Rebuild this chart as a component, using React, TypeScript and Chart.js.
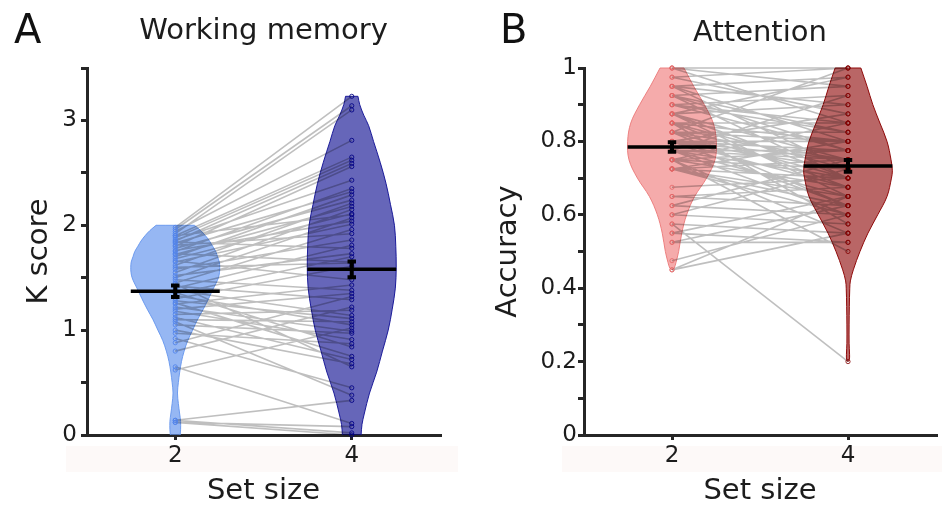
import React, { useEffect, useRef } from 'react';
import { Chart, registerables } from 'chart.js';

Chart.register(...registerables);

// ---------- data ----------
const setSizes = ['2', '4'];

// Working memory (K score), paired by participant
const wmSet2 = [1.98, 1.96, 1.92, 1.94, 1.90, 1.88, 1.85, 1.80, 1.86, 1.75, 1.83, 1.70, 1.78, 1.62, 1.72, 1.55, 1.68, 1.90, 1.50, 1.76, 1.65, 1.45, 1.81, 1.58, 1.40, 1.84, 1.52, 1.35, 1.73, 1.60, 1.30, 1.66, 1.25, 1.48, 1.20, 0.88, 1.42, 0.80, 1.15, 1.38, 1.28, 1.10, 1.33, 0.62, 1.22, 1.05, 1.18, 0.97, 1.36, 1.26, 1.12, 1.00, 1.44, 0.92, 1.08, 0.14, 0.65, 0.12, 0.14, 0.12];
const wmSet4 = [3.23, 3.14, 3.10, 2.81, 2.65, 2.62, 2.59, 2.56, 2.43, 2.35, 2.32, 2.29, 2.24, 2.21, 2.18, 2.15, 2.11, 2.10, 2.07, 2.04, 2.01, 1.96, 1.92, 1.86, 1.81, 1.78, 1.73, 1.70, 1.65, 1.64, 1.61, 1.48, 1.43, 1.38, 1.35, 1.32, 1.29, 1.22, 1.19, 1.14, 1.11, 1.08, 1.05, 1.02, 0.99, 0.97, 0.91, 0.87, 0.84, 0.75, 0.72, 0.68, 0.65, 0.45, 0.38, 0.33, 0.11, 0.08, 0.02, 0.00];

// Attention (accuracy), paired by participant
const attSet2 = [1.0, 1.0, 1.0, 0.975, 0.975, 0.95, 0.95, 0.95, 0.95, 0.925, 0.925, 0.925, 0.925, 0.9, 0.9, 0.9, 0.9, 0.875, 0.875, 0.875, 0.875, 0.875, 0.85, 0.85, 0.85, 0.85, 0.85, 0.825, 0.825, 0.825, 0.825, 0.825, 0.825, 0.8, 0.8, 0.8, 0.8, 0.8, 0.8, 0.8, 0.8, 0.775, 0.775, 0.775, 0.775, 0.775, 0.775, 0.775, 0.75, 0.75, 0.75, 0.75, 0.75, 0.75, 0.725, 0.725, 0.725, 0.725, 0.725, 0.725, 0.675, 0.65, 0.65, 0.625, 0.625, 0.6, 0.6, 0.575, 0.575, 0.55, 0.55, 0.525, 0.525, 0.475, 0.45, 0.45];
const attSet4 = [1.0, 0.95, 0.85, 1.0, 0.875, 0.975, 0.8, 0.725, 0.9, 0.95, 0.7, 0.825, 0.775, 0.925, 0.775, 0.825, 0.85, 0.9, 0.75, 0.65, 0.975, 0.7, 0.85, 0.725, 0.575, 0.8, 0.675, 0.825, 0.7, 1.0, 0.8, 0.75, 0.625, 0.775, 0.675, 0.875, 0.75, 0.625, 0.8, 0.725, 0.775, 0.75, 0.65, 0.925, 0.6, 0.7, 0.775, 0.75, 0.725, 0.55, 0.85, 0.675, 0.5, 0.775, 0.7, 0.6, 0.8, 0.625, 0.75, 0.65, 0.7, 0.625, 0.675, 0.6, 0.75, 0.575, 0.725, 0.2, 0.55, 0.525, 0.65, 0.525, 0.625, 0.6, 0.65, 0.55];

// group means and standard errors
const wmMean = [1.37, 1.58];
const wmSem = [0.055, 0.075];
const attMean = [0.785, 0.733];
const attSem = [0.013, 0.016];

// labelled y ticks
const wmTickLabels = [0, 1, 2, 3];
const attTickLabels = [0, 0.2, 0.4, 0.6, 0.8, 1];

// violin outlines: y levels and relative half-width (1 = widest)
const wmViolin2Y = [0, 0.05, 0.13, 0.2, 0.3, 0.4, 0.5, 0.6, 0.7, 0.8, 0.9, 1.0, 1.1, 1.2, 1.3, 1.4, 1.45, 1.5, 1.55, 1.6, 1.65, 1.7, 1.75, 1.8, 1.85, 1.9, 1.95, 2.0];
const wmViolin2W = [0.11, 0.12, 0.12, 0.10, 0.07, 0.05, 0.07, 0.10, 0.14, 0.20, 0.28, 0.39, 0.50, 0.63, 0.75, 0.86, 0.92, 0.97, 0.995, 1.0, 0.99, 0.95, 0.91, 0.84, 0.77, 0.68, 0.57, 0.43];
const wmViolin4Y = [0, 0.1, 0.2, 0.4, 0.6, 0.8, 1.0, 1.2, 1.4, 1.6, 1.8, 2.0, 2.2, 2.4, 2.6, 2.8, 2.95, 3.05, 3.15, 3.23];
const wmViolin4W = [0.21, 0.23, 0.28, 0.40, 0.56, 0.69, 0.82, 0.91, 0.98, 1.0, 0.99, 0.96, 0.87, 0.77, 0.64, 0.49, 0.38, 0.27, 0.18, 0.14];
const attViolin2Y = [0.45, 0.455, 0.47, 0.5, 0.55, 0.6, 0.65, 0.7, 0.75, 0.8, 0.85, 0.9, 0.95, 1.0];
const attViolin2W = [0, 0.05, 0.09, 0.15, 0.22, 0.33, 0.51, 0.78, 0.97, 1.0, 0.93, 0.73, 0.49, 0.27];
const attViolin4Y = [0.2, 0.205, 0.22, 0.25, 0.3, 0.35, 0.4, 0.42, 0.45, 0.5, 0.55, 0.6, 0.65, 0.7, 0.72, 0.75, 0.8, 0.85, 0.9, 0.95, 1.0];
const attViolin4W = [0, 0.03, 0.035, 0.025, 0.025, 0.03, 0.04, 0.054, 0.12, 0.27, 0.45, 0.67, 0.88, 0.98, 1.0, 0.97, 0.88, 0.72, 0.56, 0.43, 0.29];

// ---------- styling ----------
const FONT = 'DejaVu Sans';
const INK = '#1c1c1c';
const AXIS = '#262626';
const HALF = 0.252; // violin / mean-line half width in category units
const CAP = 0.024;

type Pt = { x: number; y: number | null };

function violinPoints(center: number, ys: number[], ws: number[]): Pt[] {
  const left = ys.map((y, i) => ({ x: center - ws[i] * HALF, y }));
  const right = ys.map((y, i) => ({ x: center + ws[i] * HALF, y })).reverse();
  const tl = left[left.length - 1];
  const tr = right[0];
  return [...left, { ...tl }, { ...tr }, ...right];
}

function pairPoints(a: number[], b: number[]): Pt[] {
  const pts: Pt[] = [];
  a.forEach((v, i) => {
    pts.push({ x: 1, y: v }, { x: 2, y: b[i] }, { x: 1.5, y: null });
  });
  return pts;
}

function meanPoints(m: number[]): Pt[] {
  const pts: Pt[] = [];
  m.forEach((v, i) => {
    const c = i + 1;
    pts.push({ x: c - HALF, y: v }, { x: c + HALF, y: v }, { x: c, y: null });
  });
  return pts;
}

function errPoints(m: number[], s: number[]): Pt[] {
  const pts: Pt[] = [];
  m.forEach((v, i) => {
    const c = i + 1;
    const hi = v + s[i];
    const lo = v - s[i];
    pts.push(
      { x: c - CAP, y: hi }, { x: c + CAP, y: hi }, { x: c, y: null },
      { x: c, y: hi }, { x: c, y: lo }, { x: c, y: null },
      { x: c - CAP, y: lo }, { x: c + CAP, y: lo }, { x: c, y: null }
    );
  });
  return pts;
}

const letterPlugin = {
  id: 'panelLetter',
  afterDraw(chart: any, _a: any, opts: any) {
    const ctx = chart.ctx;
    ctx.save();
    ctx.font = `40px "${FONT}"`;
    ctx.fillStyle = '#111';
    ctx.textBaseline = 'alphabetic';
    ctx.textAlign = 'left';
    ctx.fillText(opts.text, opts.x, opts.y);
    ctx.restore();
  },
};

const bandPlugin = {
  id: 'labelBand',
  beforeDraw(chart: any, _a: any, opts: any) {
    const ctx = chart.ctx;
    ctx.save();
    ctx.fillStyle = '#fdf9f8';
    ctx.fillRect(opts.x0, opts.y0, opts.x1 - opts.x0, opts.y1 - opts.y0);
    ctx.restore();
  },
};

interface Panel {
  letter: string;
  letterX: number;
  title: string;
  titlePad: [number, number];
  yTitle: string;
  yTitlePad: number;
  yWidth: number;
  padRight: number;
  yTickPad: number;
  yMax: number;
  yStep: number;
  tickLabels: number[];
  set2: number[];
  set4: number[];
  mean: number[];
  sem: number[];
  v2: [number[], number[]];
  v4: [number[], number[]];
  fill2: string; border2: string; dot2: string;
  fill4: string; border4: string; dot4: string;
  band: [number, number];
}

const panelA: Panel = {
  letter: 'A', letterX: 14,
  title: 'Working memory', titlePad: [13.6, 19.6],
  yTitle: 'K score', yTitlePad: 22, yWidth: 87, padRight: 31, yTickPad: 4,
  yMax: 3.5, yStep: 0.5, tickLabels: wmTickLabels,
  set2: wmSet2, set4: wmSet4, mean: wmMean, sem: wmSem,
  v2: [wmViolin2Y, wmViolin2W], v4: [wmViolin4Y, wmViolin4W],
  fill2: 'rgba(100,149,237,0.68)', border2: 'rgba(100,149,237,0.9)', dot2: 'rgba(80,130,235,0.85)',
  fill4: 'rgba(0,0,139,0.6)', border4: 'rgba(20,20,150,0.95)', dot4: 'rgba(0,0,130,0.85)',
  band: [66, 458],
};

const panelB: Panel = {
  letter: 'B', letterX: 29,
  title: 'Attention', titlePad: [16.1, 17.1],
  yTitle: 'Accuracy', yTitlePad: 20, yWidth: 113, padRight: 6, yTickPad: 1,
  yMax: 1, yStep: 0.1, tickLabels: attTickLabels,
  set2: attSet2, set4: attSet4, mean: attMean, sem: attSem,
  v2: [attViolin2Y, attViolin2W], v4: [attViolin4Y, attViolin4W],
  fill2: 'rgba(240,128,128,0.66)', border2: 'rgba(235,120,120,0.9)', dot2: 'rgba(225,100,100,0.75)',
  fill4: 'rgba(139,0,0,0.6)', border4: 'rgba(139,0,0,0.95)', dot4: 'rgba(130,0,0,0.8)',
  band: [91, 471],
};

function makeConfig(p: Panel): any {
  const line = { pointRadius: 0, fill: false, showLine: true, clip: false };
  // datasets listed top-most first; violin fills are painted before all datasets
  return {
    type: 'line',
    data: {
      datasets: [
        { ...line, data: errPoints(p.mean, p.sem), borderColor: '#000', borderWidth: 4 },
        { ...line, data: meanPoints(p.mean), borderColor: '#000', borderWidth: 3.5 },
        { data: p.set2.map((v) => ({ x: 1, y: v })), showLine: false, pointRadius: 2.1, pointBorderWidth: 1, pointBackgroundColor: 'rgba(0,0,0,0)', pointBorderColor: p.dot2, clip: false },
        { data: p.set4.map((v) => ({ x: 2, y: v })), showLine: false, pointRadius: 2.1, pointBorderWidth: 1, pointBackgroundColor: 'rgba(0,0,0,0)', pointBorderColor: p.dot4, clip: false },
        { ...line, data: pairPoints(p.set2, p.set4), borderColor: 'rgba(0,0,0,0.25)', borderWidth: 1.6 },
        { ...line, data: violinPoints(2, p.v4[0], p.v4[1]), backgroundColor: p.fill4, borderColor: p.border4, borderWidth: 1, fill: 'shape', tension: 0.35 },
        { ...line, data: violinPoints(1, p.v2[0], p.v2[1]), backgroundColor: p.fill2, borderColor: p.border2, borderWidth: 1, fill: 'shape', tension: 0.35 },
      ],
    },
    plugins: [letterPlugin, bandPlugin],
    options: {
      responsive: false,
      animation: false,
      devicePixelRatio: 1,
      events: [],
      layout: { padding: { left: 0, right: p.padRight, top: 0, bottom: 0 } },
      plugins: {
        legend: { display: false },
        tooltip: { enabled: false },
        filler: { drawTime: 'beforeDatasetsDraw' },
        title: {
          display: true, text: p.title, fullSize: false, color: INK,
          font: { family: FONT, size: 29, weight: 'normal', lineHeight: 1.2 },
          padding: { top: p.titlePad[0], bottom: p.titlePad[1] },
        },
        panelLetter: { text: p.letter, x: p.letterX, y: 43 },
        labelBand: { x0: p.band[0], x1: p.band[1], y0: 446, y1: 472 },
      },
      scales: {
        x: {
          type: 'linear', min: 0.5, max: 2.5,
          afterBuildTicks: (s: any) => { s.ticks = setSizes.map((_, i) => ({ value: i + 1 })); },
          afterFit: (s: any) => { s.height = 73; },
          ticks: {
            autoSkip: false, maxRotation: 0, padding: 2, color: INK,
            font: { family: FONT, size: 23 },
            callback: (_v: any, i: number) => setSizes[i],
          },
          grid: { drawOnChartArea: false, drawTicks: true, tickLength: 5, tickWidth: 3, tickColor: AXIS, color: AXIS, lineWidth: 3 },
          border: { display: true, color: AXIS, width: 3 },
          title: { display: true, text: 'Set size', color: INK, font: { family: FONT, size: 29, lineHeight: 1 }, padding: { top: 0, bottom: 2 } },
        },
        y: {
          type: 'linear', min: 0, max: p.yMax,
          afterFit: (s: any) => { s.width = p.yWidth; },
          ticks: {
            stepSize: p.yStep, autoSkip: false, padding: p.yTickPad, color: INK,
            font: { family: FONT, size: 23 },
            callback: (v: any) => {
              const r = Number(Number(v).toFixed(3));
              return p.tickLabels.includes(r) ? String(r) : '';
            },
          },
          grid: { drawOnChartArea: false, drawTicks: true, tickLength: 6, tickWidth: 3, tickColor: AXIS, color: AXIS, lineWidth: 3 },
          border: { display: true, color: AXIS, width: 3 },
          title: { display: true, text: p.yTitle, color: INK, font: { family: FONT, size: 29, lineHeight: 1.2 }, padding: { top: p.yTitlePad, bottom: 0 } },
        },
      },
    },
  };
}

export default function App() {
  const refA = useRef<HTMLCanvasElement>(null);
  const refB = useRef<HTMLCanvasElement>(null);
  useEffect(() => {
    Chart.defaults.font.family = FONT;
    const a = new Chart(refA.current as HTMLCanvasElement, makeConfig(panelA));
    const b = new Chart(refB.current as HTMLCanvasElement, makeConfig(panelB));
    return () => {
      a.destroy();
      b.destroy();
    };
  }, []);
  return (
    <div style={{ position: 'absolute', left: 0, top: 0, width: 942, height: 508, background: '#fff' }}>
      <canvas ref={refA} width={471} height={508} style={{ position: 'absolute', left: 0, top: 0 }} />
      <canvas ref={refB} width={471} height={508} style={{ position: 'absolute', left: 471, top: 0 }} />
    </div>
  );
}
